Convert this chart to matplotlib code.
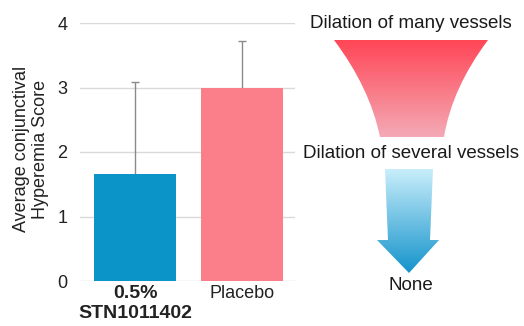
import numpy as np
import matplotlib
matplotlib.use("Agg")
import matplotlib.pyplot as plt
from matplotlib.path import Path
from matplotlib.patches import PathPatch
from matplotlib.colors import LinearSegmentedColormap

plt.rcParams['font.family'] = ['Liberation Sans', 'DejaVu Sans']

# data
groups = ['0.5%\nSTN1011402', 'Placebo']
scores = [1.66, 3.0]
sd = [1.43, 0.72]
bar_colors = ['#0b94c7', '#fb7f8b']
yticks = [0, 1, 2, 3, 4]
scale_labels = ['Dilation of many vessels', 'Dilation of several vessels', 'None']

W, H = 524, 326
fig = plt.figure(figsize=(W / 100, H / 100), dpi=100)

# ---- bar chart ----
ax = fig.add_axes([80 / W, 1 - 281 / H, 215 / W, 258 / H])
x = np.arange(len(groups))
ax.bar(x, scores, width=0.77, color=bar_colors, zorder=2)
# lower half of the error bar sits behind the bar
ax.errorbar(x, scores, yerr=sd, fmt='none',
            ecolor='#8a8a8a', elinewidth=1, capsize=3, capthick=1, zorder=1.5)
ax.set_xlim(-0.515, 1.495)
ax.set_ylim(0, 4)
ax.set_yticks(yticks)
ax.set_yticklabels([str(t) for t in yticks])
ax.set_xticks(x)
ax.set_xticklabels(groups)
ax.tick_params(axis='both', length=0, labelsize=13, colors='#222222')
lab0 = ax.get_xticklabels()[0]
lab0.set_fontweight('bold')
lab0.set_fontsize(14)
ax.tick_params(axis='y', pad=9)
ax.tick_params(axis='x', pad=3)
ax.grid(axis='y', color='#d9d9d9', lw=1)
ax.set_axisbelow(True)
for s in ax.spines.values():
    s.set_visible(False)

fig.text(31 / W, 1 - 149 / H, 'Average conjunctival\nHyperemia Score', rotation=90,
         ha='center', va='center', multialignment='center', fontsize=13, color='#222222')

# ---- severity scale graphic (pixel coordinates) ----
ax2 = fig.add_axes([0, 0, 1, 1], zorder=-1)
ax2.axis('off')


def gradient_shape(verts, codes, top, bottom, c_top, c_bot):
    path = Path(verts, codes)
    patch = PathPatch(path, fc='none', ec='none')
    ax2.add_patch(patch)
    xs = [v[0] for v in verts]
    cmap = LinearSegmentedColormap.from_list('g', [c_top, c_bot])
    grad = np.linspace(0, 1, 256).reshape(-1, 1)
    im = ax2.imshow(grad, cmap=cmap, aspect='auto', origin='upper',
                    extent=(min(xs), max(xs), bottom, top))
    im.set_clip_path(patch)


# funnel
fv = [(334, 40), (488, 40), (452, 88), (444, 137), (380, 137), (370, 88), (334, 40), (334, 40)]
fc = [Path.MOVETO, Path.LINETO, Path.CURVE3, Path.CURVE3, Path.LINETO,
      Path.CURVE3, Path.CURVE3, Path.CLOSEPOLY]
gradient_shape(fv, fc, 40, 137, '#ff4656', '#f4aab6')

# arrow
av = [(385, 169), (433, 169), (430, 240), (439, 240), (409, 273), (377, 240), (388, 240), (385, 169)]
ac = [Path.MOVETO] + [Path.LINETO] * 6 + [Path.CLOSEPOLY]
gradient_shape(av, ac, 169, 273, '#c9eefb', '#1493cb')

ax2.set_xlim(0, W)
ax2.set_ylim(H, 0)

for label, ypx in zip(scale_labels, [23, 154, 285]):
    ax2.text(411, ypx, label, ha='center', va='center', fontsize=13.5, color='#1a1a1a')

fig.savefig('out.png', dpi=100)
